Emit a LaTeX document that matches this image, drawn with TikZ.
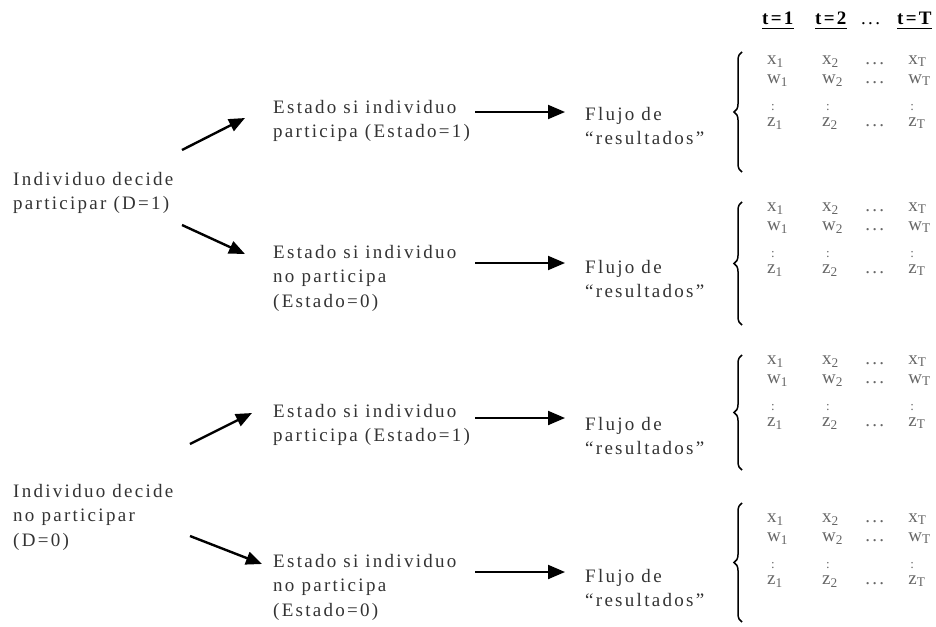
\documentclass[tikz,border=0pt]{standalone}
\usepackage{fontspec}
\setmainfont{Liberation Serif}[LetterSpace=12]
\usetikzlibrary{arrows.meta}
\usetikzlibrary{decorations.pathreplacing}
\usetikzlibrary{matrix}
\usetikzlibrary{positioning}

\begin{document}
\begin{tikzpicture}[x=1pt, y=-1pt]

\tikzset{
    txt/.style={anchor=north west, align=left, inner sep=0pt, text=black!80,
        font=\fontsize{19}{24.5}\selectfont},
    hdr/.style={anchor=base west, inner xsep=0pt, inner ysep=2.5pt,
        font=\fontsize{19}{20}\selectfont\bfseries,
        append after command={[line width=1.6pt]
            (\tikzlastnode.south west) edge (\tikzlastnode.south east)}},
    myarrow/.style={-{Triangle[length=17pt, width=14pt]}, line width=2pt},
    diagarrow/.style={-{Triangle[length=16pt, width=13pt]}, line width=2.4pt},
    lbrace/.style={decorate, decoration={brace, amplitude=8pt}, line width=1.5pt},
    vals/.style={matrix of nodes, ampersand replacement=\&, inner sep=0pt, anchor=north west,
        nodes={anchor=base west, inner sep=0pt, text=black!60, text height=8pt, text depth=3pt,
            font=\fontsize{19}{20}\selectfont},
        column 1/.style={nodes={text width=55pt}},
        column 2/.style={nodes={text width=43pt}},
        column 3/.style={nodes={text width=43pt}}},
    colon/.style={font=\fontsize{13}{13}\selectfont}
}

\useasboundingbox (0,0) rectangle (936,626);

% Column header
\node[hdr] (t1) at (762,25) {t=1};
\node[hdr] (t2) at (815,25) {t=2};
\node[anchor=base west, inner sep=0pt, font=\fontsize{19}{20}\selectfont] (tdots) at (861,25) {...};
\node[hdr] (tT) at (897,25) {t=T};

%%% Participa (D=1) %%%

% Decision
\node[txt] (dec1) at (13,172) {Individuo decide\\participar (D=1)};

% State 1
\node[txt] (st11) at (273,100) {Estado si individuo\\participa (Estado=1)};
\node[txt] (fl11) at (585,107) {Flujo de\\“resultados”};
\coordinate (a11s) at (182,150);
\coordinate (a11e) at (245,118);
\draw[diagarrow] (a11s) -- (a11e);
\coordinate (h11) at (475,112);
\draw[myarrow, shorten >=20pt] (h11) -- (h11 -| fl11.west);

\draw[lbrace] (742,172) -- (742,52);
\matrix[vals] (m11) at (767,56) {
  x\textsubscript{1} \& x\textsubscript{2} \& ... \& x\textsubscript{T} \\[8pt]
  w\textsubscript{1} \& w\textsubscript{2} \& ... \& w\textsubscript{T} \\[16pt]
  |[colon]| \hspace*{4pt}: \& |[colon]| \hspace*{4pt}: \& \& |[colon]| \hspace*{2pt}: \\[5pt]
  z\textsubscript{1} \& z\textsubscript{2} \& ... \& z\textsubscript{T} \\
};

% State 0
\node[txt] (st10) at (273,245) {Estado si individuo\\no participa\\(Estado=0)};
\node[txt] (fl10) at (585,260) {Flujo de\\“resultados”};
\coordinate (a10s) at (182,225);
\coordinate (a10e) at (245,254);
\draw[diagarrow] (a10s) -- (a10e);
\coordinate (h10) at (475,263);
\draw[myarrow, shorten >=20pt] (h10) -- (h10 -| fl10.west);

\draw[lbrace] (742,325) -- (742,202);
\matrix[vals] (m10) at (767,203) {
  x\textsubscript{1} \& x\textsubscript{2} \& ... \& x\textsubscript{T} \\[8pt]
  w\textsubscript{1} \& w\textsubscript{2} \& ... \& w\textsubscript{T} \\[16pt]
  |[colon]| \hspace*{4pt}: \& |[colon]| \hspace*{4pt}: \& \& |[colon]| \hspace*{2pt}: \\[5pt]
  z\textsubscript{1} \& z\textsubscript{2} \& ... \& z\textsubscript{T} \\
};

%%% No participa (D=0) %%%

% Decision
\node[txt] (dec0) at (13,484) {Individuo decide\\no participar\\(D=0)};

% State 1
\node[txt] (st01) at (273,404) {Estado si individuo\\participa (Estado=1)};
\node[txt] (fl01) at (585,417) {Flujo de\\“resultados”};
\coordinate (a01s) at (190,444);
\coordinate (a01e) at (252,413);
\draw[diagarrow] (a01s) -- (a01e);
\coordinate (h01) at (475,418);
\draw[myarrow, shorten >=20pt] (h01) -- (h01 -| fl01.west);

\draw[lbrace] (742,470) -- (742,355);
\matrix[vals] (m01) at (767,356) {
  x\textsubscript{1} \& x\textsubscript{2} \& ... \& x\textsubscript{T} \\[8pt]
  w\textsubscript{1} \& w\textsubscript{2} \& ... \& w\textsubscript{T} \\[16pt]
  |[colon]| \hspace*{4pt}: \& |[colon]| \hspace*{4pt}: \& \& |[colon]| \hspace*{2pt}: \\[5pt]
  z\textsubscript{1} \& z\textsubscript{2} \& ... \& z\textsubscript{T} \\
};

% State 0
\node[txt] (st00) at (273,554) {Estado si individuo\\no participa\\(Estado=0)};
\node[txt] (fl00) at (585,569) {Flujo de\\“resultados”};
\coordinate (a00s) at (190,536);
\coordinate (a00e) at (262,564);
\draw[diagarrow] (a00s) -- (a00e);
\coordinate (h00) at (475,572);
\draw[myarrow, shorten >=20pt] (h00) -- (h00 -| fl00.west);

\draw[lbrace] (742,622) -- (742,503);
\matrix[vals] (m00) at (767,514) {
  x\textsubscript{1} \& x\textsubscript{2} \& ... \& x\textsubscript{T} \\[8pt]
  w\textsubscript{1} \& w\textsubscript{2} \& ... \& w\textsubscript{T} \\[16pt]
  |[colon]| \hspace*{4pt}: \& |[colon]| \hspace*{4pt}: \& \& |[colon]| \hspace*{2pt}: \\[5pt]
  z\textsubscript{1} \& z\textsubscript{2} \& ... \& z\textsubscript{T} \\
};

\end{tikzpicture}
\end{document}
